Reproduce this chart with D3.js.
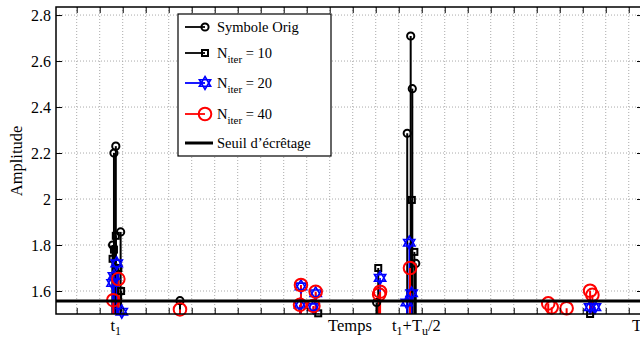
<!DOCTYPE html>
<html>
<head>
<meta charset="utf-8">
<script src="https://cdn.jsdelivr.net/npm/d3@7"></script>
<style>
  body { margin: 0; background: #fff; }
  text { font-family: "Liberation Serif", "DejaVu Serif", serif; }
</style>
</head>
<body>
<script>
// DATA

var seuil = 1.556;

var origX = [15.6, 16.2, 17.0, 19.1, 44.9, 130.4, 143.7, 145.2, 145.9, 147.4];
var origY = [1.80, 2.20, 2.23, 1.857, 1.558, 1.55, 2.286, 2.709, 2.48, 1.72];

var n10X = [15.6, 16.2, 17.0, 18.1, 19.3, 105.0, 131.1, 145.7, 146.8, 223.2];
var n10Y = [1.74, 1.78, 1.84, 1.70, 1.60, 1.503, 1.70, 1.996, 1.77, 1.50];

var n20X = [15.6, 16.2, 17.4, 19.6, 97.1, 97.5, 102.9, 103.9, 131.9, 143.5, 144.6, 145.6, 223.2, 225.3];
var n20Y = [1.635, 1.665, 1.72, 1.51, 1.54, 1.62, 1.53, 1.59, 1.657, 1.55, 1.81, 1.59, 1.53, 1.53];

var n40X = [15.9, 18.1, 44.9, 97.1, 97.5, 102.9, 103.9, 131.5, 131.9, 144.9, 205.0, 206.5, 213.0, 223.2, 224.2];
var n40Y = [1.56, 1.652, 1.52, 1.54, 1.626, 1.535, 1.597, 1.585, 1.597, 1.70, 1.546, 1.529, 1.525, 1.601, 1.583];

var xTicks = d3.range(0, 250, 10);
var yTicks = [1.6, 1.8, 2.0, 2.2, 2.4, 2.6, 2.8];

var legendLabels = ["Symbole Orig", "N|iter| = 10", "N|iter| = 20", "N|iter| = 40", "Seuil d\u2019\u00e9cr\u00eatage"];

// CHART STRUCTURE

var svgWidth = 640;
var svgHeight = 338;
var plotLeft = 56, plotRight = 643, plotTop = 7, plotBottom = 314;

var svg = d3.select("body")
  .append("svg")
  .attr("width", svgWidth)
  .attr("height", svgHeight);

var xScale = d3.scaleLinear().domain([-9, 246.2]).range([plotLeft, plotRight]);
var yScale = d3.scaleLinear().domain([1.5, 2.835]).range([plotBottom, plotTop]);

svg.append("defs").append("clipPath").attr("id", "plot")
  .append("rect")
  .attr("x", plotLeft).attr("y", plotTop)
  .attr("width", plotRight - plotLeft).attr("height", plotBottom - plotTop);

// GRID

var grid = svg.append("g");
grid.selectAll("line.vx")
  .data(xTicks)
  .enter().append("line")
  .attr("x1", d => xScale(d)).attr("x2", d => xScale(d))
  .attr("y1", plotTop).attr("y2", plotBottom)
  .attr("stroke", "#aaa").attr("stroke-dasharray", "1,2");
grid.selectAll("line.hy")
  .data(yTicks)
  .enter().append("line")
  .attr("x1", plotLeft).attr("x2", plotRight)
  .attr("y1", d => yScale(d)).attr("y2", d => yScale(d))
  .attr("stroke", "#aaa").attr("stroke-dasharray", "1,2");

// STEMS

var plot = svg.append("g").attr("clip-path", "url(#plot)");

function zip(xs, ys) {
  return xs.map((x, i) => ({x: x, y: ys[i]}));
}

function stems(data, color, width) {
  plot.append("g").selectAll("line")
    .data(data)
    .enter().append("line")
    .attr("x1", d => xScale(d.x)).attr("x2", d => xScale(d.x))
    .attr("y1", plotBottom + 2).attr("y2", d => yScale(d.y))
    .attr("stroke", color).attr("stroke-width", width);
}

function hexagram(r) {
  var p = [];
  for (var k = 0; k < 2; k++) {
    var pts = [];
    for (var j = 0; j < 3; j++) {
      var a = -Math.PI / 2 + k * Math.PI / 3 + j * 2 * Math.PI / 3;
      pts.push([r * Math.cos(a), r * Math.sin(a)]);
    }
    p.push("M" + pts.map(q => q[0].toFixed(2) + "," + q[1].toFixed(2)).join("L") + "Z");
  }
  return p.join("");
}

function marker(g, kind) {
  if (kind == "orig") {
    g.append("circle").attr("r", 3.6).attr("fill", "none")
      .attr("stroke", "black").attr("stroke-width", 2);
  } else if (kind == "n10") {
    g.append("rect").attr("x", -3).attr("y", -3).attr("width", 6).attr("height", 6)
      .attr("fill", "none").attr("stroke", "black").attr("stroke-width", 2);
  } else if (kind == "n20") {
    g.append("path").attr("d", hexagram(6.5)).attr("fill", "none")
      .attr("stroke", "blue").attr("stroke-width", 1.6);
  } else {
    g.append("circle").attr("r", 6.3).attr("fill", "none")
      .attr("stroke", "red").attr("stroke-width", 2);
  }
}

function markers(data, kind) {
  svg.append("g").selectAll("g")
    .data(data.filter(d => d.y >= 1.5))
    .enter().append("g")
    .attr("transform", d => `translate(${xScale(d.x)},${yScale(d.y)})`)
    .each(function() { marker(d3.select(this), kind); });
}

var series = [
  {data: zip(origX, origY), kind: "orig", color: "black", w: 2},
  {data: zip(n10X, n10Y), kind: "n10", color: "black", w: 2},
  {data: zip(n20X, n20Y), kind: "n20", color: "blue", w: 1.6},
  {data: zip(n40X, n40Y), kind: "n40", color: "red", w: 2}
];

series.forEach(function(s) {
  stems(s.data, s.color, s.w);
  markers(s.data, s.kind);
});

// THRESHOLD

svg.append("line")
  .attr("x1", plotLeft).attr("x2", plotRight)
  .attr("y1", yScale(seuil)).attr("y2", yScale(seuil))
  .attr("stroke", "black").attr("stroke-width", 3);

// AXES

svg.append("g")
  .attr("transform", `translate(0, ${plotBottom})`)
  .call(d3.axisBottom(xScale).tickValues(xTicks).tickSize(-6).tickFormat(""))
  .call(g => g.select(".domain").remove());
svg.append("g")
  .attr("transform", `translate(0, ${plotTop})`)
  .call(d3.axisTop(xScale).tickValues(xTicks).tickSize(-6).tickFormat(""))
  .call(g => g.select(".domain").remove());
svg.append("g")
  .attr("transform", `translate(${plotLeft}, 0)`)
  .call(d3.axisLeft(yScale).tickValues(yTicks).tickSize(-6).tickPadding(5)
    .tickFormat(d => String(+d.toFixed(1))))
  .call(g => g.select(".domain").remove())
  .call(g => g.selectAll("text").attr("font-size", 16).attr("font-family", "Liberation Serif").attr("fill", "black"));
svg.append("g")
  .attr("transform", `translate(${plotRight}, 0)`)
  .call(d3.axisRight(yScale).tickValues(yTicks).tickSize(-6).tickFormat(""))
  .call(g => g.select(".domain").remove());

svg.append("rect")
  .attr("x", plotLeft).attr("y", plotTop)
  .attr("width", plotRight - plotLeft).attr("height", plotBottom - plotTop)
  .attr("fill", "none").attr("stroke", "black").attr("stroke-width", 1.5);

// AXIS LABELS

svg.append("text")
  .attr("transform", `translate(22, 161) rotate(-90)`)
  .attr("text-anchor", "middle")
  .attr("font-size", 16.5)
  .text("Amplitude");

svg.append("text")
  .attr("x", 350).attr("y", 331)
  .attr("text-anchor", "middle")
  .attr("font-size", 16.5)
  .text("Temps");

var t1 = svg.append("text").attr("x", xScale(17)).attr("y", 331)
  .attr("text-anchor", "middle").attr("font-size", 16.5);
t1.append("tspan").text("t");
t1.append("tspan").attr("dy", 4).attr("font-size", 12).text("1");

var tm = svg.append("text").attr("x", 392).attr("y", 331).attr("font-size", 16.5);
tm.append("tspan").text("t");
tm.append("tspan").attr("dy", 4).attr("font-size", 12).text("1");
tm.append("tspan").attr("dy", -4).text("+T");
tm.append("tspan").attr("dy", 4).attr("font-size", 12).text("u");
tm.append("tspan").attr("dy", -4).text("/2");

svg.append("text").attr("x", 637).attr("y", 331)
  .attr("text-anchor", "middle").attr("font-size", 16.5).text("T");

// LEGEND

var legend = svg.append("g");
legend.append("rect")
  .attr("x", 178).attr("y", 14).attr("width", 153).attr("height", 142)
  .attr("fill", "white").attr("stroke", "black").attr("stroke-width", 1.2);

var legendY = [27, 53, 83, 114, 143];
var legendKinds = ["orig", "n10", "n20", "n40", "seuil"];
var legendColors = ["black", "black", "blue", "red", "black"];

legendLabels.forEach(function(lbl, i) {
  var y = legendY[i];
  legend.append("line")
    .attr("x1", 185).attr("x2", i == 4 ? 213 : 205)
    .attr("y1", y).attr("y2", y)
    .attr("stroke", legendColors[i]).attr("stroke-width", i == 4 ? 3 : 1.8);
  if (i < 4) {
    var g = legend.append("g").attr("transform", `translate(205, ${y})`);
    marker(g, legendKinds[i]);
  }
  var t = legend.append("text").attr("x", 217).attr("y", y + 5).attr("font-size", 14.5);
  var parts = lbl.split("|");
  if (parts.length == 1) {
    t.text(lbl);
  } else {
    t.append("tspan").text(parts[0]);
    t.append("tspan").attr("dy", 5).attr("font-size", 11).text(parts[1]);
    t.append("tspan").attr("dy", -5).text(parts[2]);
  }
});
</script>
</body>
</html>
